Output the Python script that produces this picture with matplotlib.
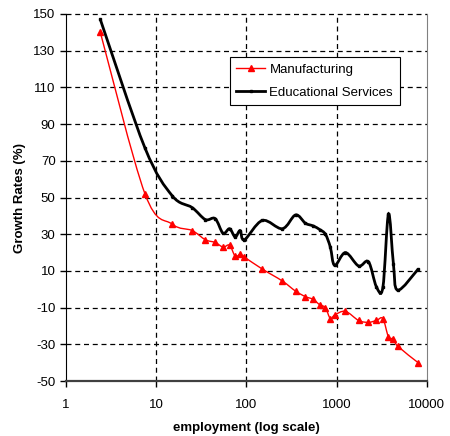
import numpy as np
import matplotlib.pyplot as plt
from matplotlib.path import Path
from matplotlib.patches import PathPatch
from matplotlib.lines import Line2D

plt.rcParams['font.family'] = ['Liberation Sans', 'DejaVu Sans']
plt.rcParams['axes.unicode_minus'] = False

# employment size classes (log axis) and growth rates in percent
employment = [2.4, 7.5, 15, 25, 35, 45, 55, 65, 75, 85, 95, 150, 250, 350, 450,
              550, 650, 750, 850, 950, 1250, 1750, 2250, 2750, 3250, 3750, 4250,
              4750, 8000]
manufacturing = [140, 52, 35.5, 32, 27, 25.5, 23, 24, 18, 19, 17.5, 11, 4.5, -1,
                 -4, -5.5, -8.5, -10, -16, -14, -12, -17, -18, -17, -16, -26,
                 -27, -31, -40]
educational = [147, 77, 51, 44.5, 38, 38.5, 30.5, 33, 28.5, 32, 27, 37.5, 33,
               40.5, 36, 34.5, 32.5, 30, 23, 13, 20, 12.7, 15, 1.5, 1, 41, 14,
               -0.5, 11]

y_ticks = list(range(-50, 151, 20))
x_ticks = [1, 10, 100, 1000, 10000]


def smooth_path(xs, ys):
    # Catmull-Rom style bezier through the points, built in log-x space
    u = np.log10(np.asarray(xs, float))
    v = np.asarray(ys, float)
    # scale so smoothing behaves like it does on screen
    su, sv = 90.3, 1.835
    pu, pv = u * su, v * sv
    n = len(pu)
    verts = [(pu[0], pv[0])]
    codes = [Path.MOVETO]
    for i in range(n - 1):
        p0 = (pu[max(i - 1, 0)], pv[max(i - 1, 0)])
        p1 = (pu[i], pv[i])
        p2 = (pu[i + 1], pv[i + 1])
        p3 = (pu[min(i + 2, n - 1)], pv[min(i + 2, n - 1)])
        c1 = (p1[0] + (p2[0] - p0[0]) / 6, p1[1] + (p2[1] - p0[1]) / 6)
        c2 = (p2[0] - (p3[0] - p1[0]) / 6, p2[1] - (p3[1] - p1[1]) / 6)
        verts += [c1, c2, p2]
        codes += [Path.CURVE4] * 3
    verts = [(10 ** (a / su), b / sv) for a, b in verts]
    return Path(verts, codes)


fig = plt.figure(figsize=(4.5, 4.36), dpi=100)
ax = fig.add_axes([0.1467, 0.126, 0.802, 0.842])
ax.set_xscale('log')
ax.set_xlim(1, 10000)
ax.set_ylim(-50, 150)

for yt in y_ticks[1:]:
    ax.axhline(yt, color='black', lw=0.9, ls=(0, (4, 3)), zorder=1,
               clip_on=False)
for xt in x_ticks[1:-1]:
    ax.axvline(xt, color='black', lw=0.9, ls=(0, (4, 3)), zorder=1)

# manufacturing: smoothed red line with triangle markers
ax.add_patch(PathPatch(smooth_path(employment, manufacturing), fill=False,
                       edgecolor='#ff0000', lw=1, zorder=3))
ax.plot(employment, manufacturing, ls='none', marker='^', markersize=5,
        color='#ff0000', zorder=3)

# educational services: thick black smoothed line, tiny markers
ax.add_patch(PathPatch(smooth_path(employment, educational), fill=False,
                       edgecolor='black', lw=2, zorder=4))
ax.plot(employment, educational, ls='none', marker='s', markersize=2,
        color='black', zorder=4)

ax.set_yticks(y_ticks)
ax.set_xticks(x_ticks)
ax.set_xticklabels([str(x) for x in x_ticks])
ax.xaxis.set_minor_locator(plt.NullLocator())
ax.tick_params(axis='both', labelsize=9.5, direction='out', length=4,
               width=1, colors='black')
ax.tick_params(axis='x', pad=9)

ax.spines['right'].set_color('#808080')
ax.spines['top'].set_visible(False)
ax.spines['left'].set_color('black')
ax.spines['bottom'].set_color('#404040')
ax.spines['bottom'].set_linewidth(1.6)

ax.set_xlabel('employment (log scale)', fontsize=9.5, fontweight='bold',
              labelpad=8)
ax.set_ylabel('Growth Rates (%)', fontsize=9.5, fontweight='bold',
              labelpad=5)

handles = [
    Line2D([], [], color='#ff0000', lw=1, marker='^', markersize=5),
    Line2D([], [], color='black', lw=2, marker='s', markersize=2),
]
leg = ax.legend(handles, ['Manufacturing', 'Educational Services'],
                loc='upper left', bbox_to_anchor=(0.454, 0.883),
                fontsize=9.5, frameon=True, fancybox=False, framealpha=1,
                edgecolor='black', borderpad=0.5, handlelength=2.2,
                handletextpad=0.3, labelspacing=0.8, borderaxespad=0)
leg.get_frame().set_linewidth(0.8)

fig.savefig('out.png', dpi=100)
